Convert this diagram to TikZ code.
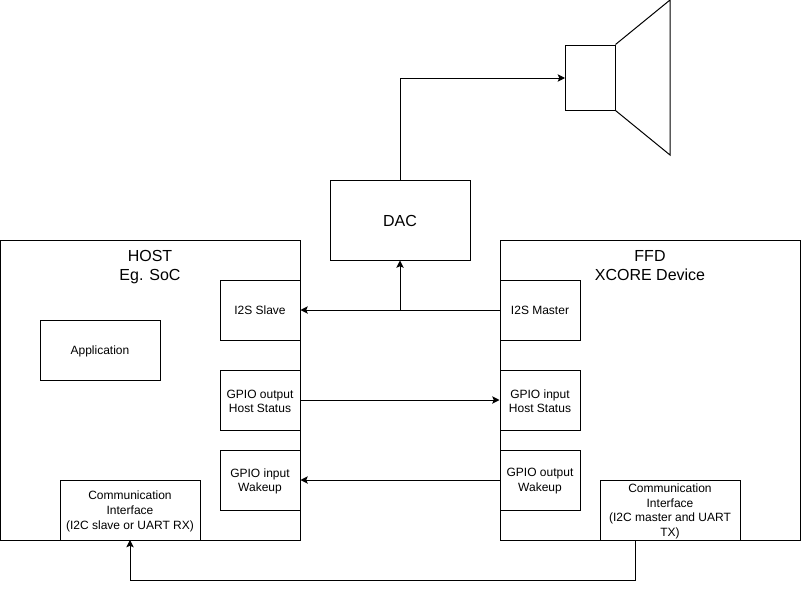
\documentclass[tikz,border=0pt]{standalone}
\usepackage{fontspec}
\setmainfont{Liberation Sans}
\usetikzlibrary{calc,positioning,arrows.meta}

\begin{document}
\begin{tikzpicture}[x=0.75pt,y=-0.75pt,line width=0.75pt,
    blk/.style={draw,rectangle,inner sep=0pt},
    txt/.style={align=center,inner sep=0pt,yshift=-1pt,font=\fontsize{9}{11}\selectfont},
    big/.style={txt,font=\fontsize{12}{14.25}\selectfont},
    head/.style={align=center,inner sep=0pt,font=\fontsize{12}{14.25}\selectfont},
    conn/.style={-{Stealth[length=5.5pt,width=5.5pt,inset=1.2pt]}}]
    \useasboundingbox (0,0) rectangle (801,589);

    \node[blk,minimum width=225pt,minimum height=225pt] (host) at (150,390) {};
    \node[blk,minimum width=225pt,minimum height=225pt] (ffd) at (650,390) {};
    \node[head,anchor=north] (hostlabel) at (150,250) {HOST\\Eg. SoC};
    \node[head,anchor=north] (ffdlabel) at (650,250) {FFD\\XCORE Device};

    \node[blk,minimum width=105pt,minimum height=60pt,label={[big]center:DAC}] (dac) at (400,220) {};
    \node[blk,minimum width=37.5pt,minimum height=48.75pt] (spk) at (590,77.5) {};
    \coordinate (conetop) at (670,0);
    \coordinate (conebot) at (670,155);
    \draw (spk.north east) -- (conetop) -- (conebot) -- (spk.south east);

    \node[blk,minimum width=90pt,minimum height=45pt,label={[txt]center:Application}] (app) at (100,350) {};

    \node[blk,minimum width=60pt,minimum height=45pt,label={[txt,yshift=1pt]center:I2S Slave}] (slave) at (260,310) {};
    \node[blk,minimum width=60pt,minimum height=45pt,label={[txt]center:{GPIO output\\Host Status}}] (gpoh) at (260,400) {};
    \node[blk,minimum width=60pt,minimum height=45pt,label={[txt]center:{GPIO input\\Wakeup}}] (gpiw) at (260,480) {};
    \node[blk,minimum width=105pt,minimum height=45pt,label={[txt]center:{Communication\\Interface\\(I2C slave or UART RX)}}] (commh) at (130,510) {};

    \node[blk,minimum width=60pt,minimum height=45pt,label={[txt,yshift=1pt]center:I2S Master}] (master) at (540,310) {};
    \node[blk,minimum width=60pt,minimum height=45pt,label={[txt]center:{GPIO input\\Host Status}}] (gpih) at (540,400) {};
    \node[blk,minimum width=60pt,minimum height=45pt,label={[txt]center:{GPIO output\\Wakeup}}] (gpow) at (540,480) {};
    \node[blk,minimum width=105pt,minimum height=45pt,label={[txt]center:{Communication\\Interface\\(I2C master and UART\\TX)}}] (commf) at (670,510) {};

    \coordinate (split) at (400,310);
    \coordinate (spkin) at (565,78);
    \coordinate (commfout) at (635,540);
    \coordinate (commhin) at (130,540);

    \draw[conn] (master.west) -- (slave.east);
    \draw[conn] (split) -- (dac.south);
    \draw[conn] (dac.north) |- (spkin);
    \draw[conn] (gpoh.east) -- (gpih.west);
    \draw[conn] (gpow.west) -- (gpiw.east);
    \draw[conn] (commfout) -- ++(0,40) -| (commhin);
\end{tikzpicture}
\end{document}
